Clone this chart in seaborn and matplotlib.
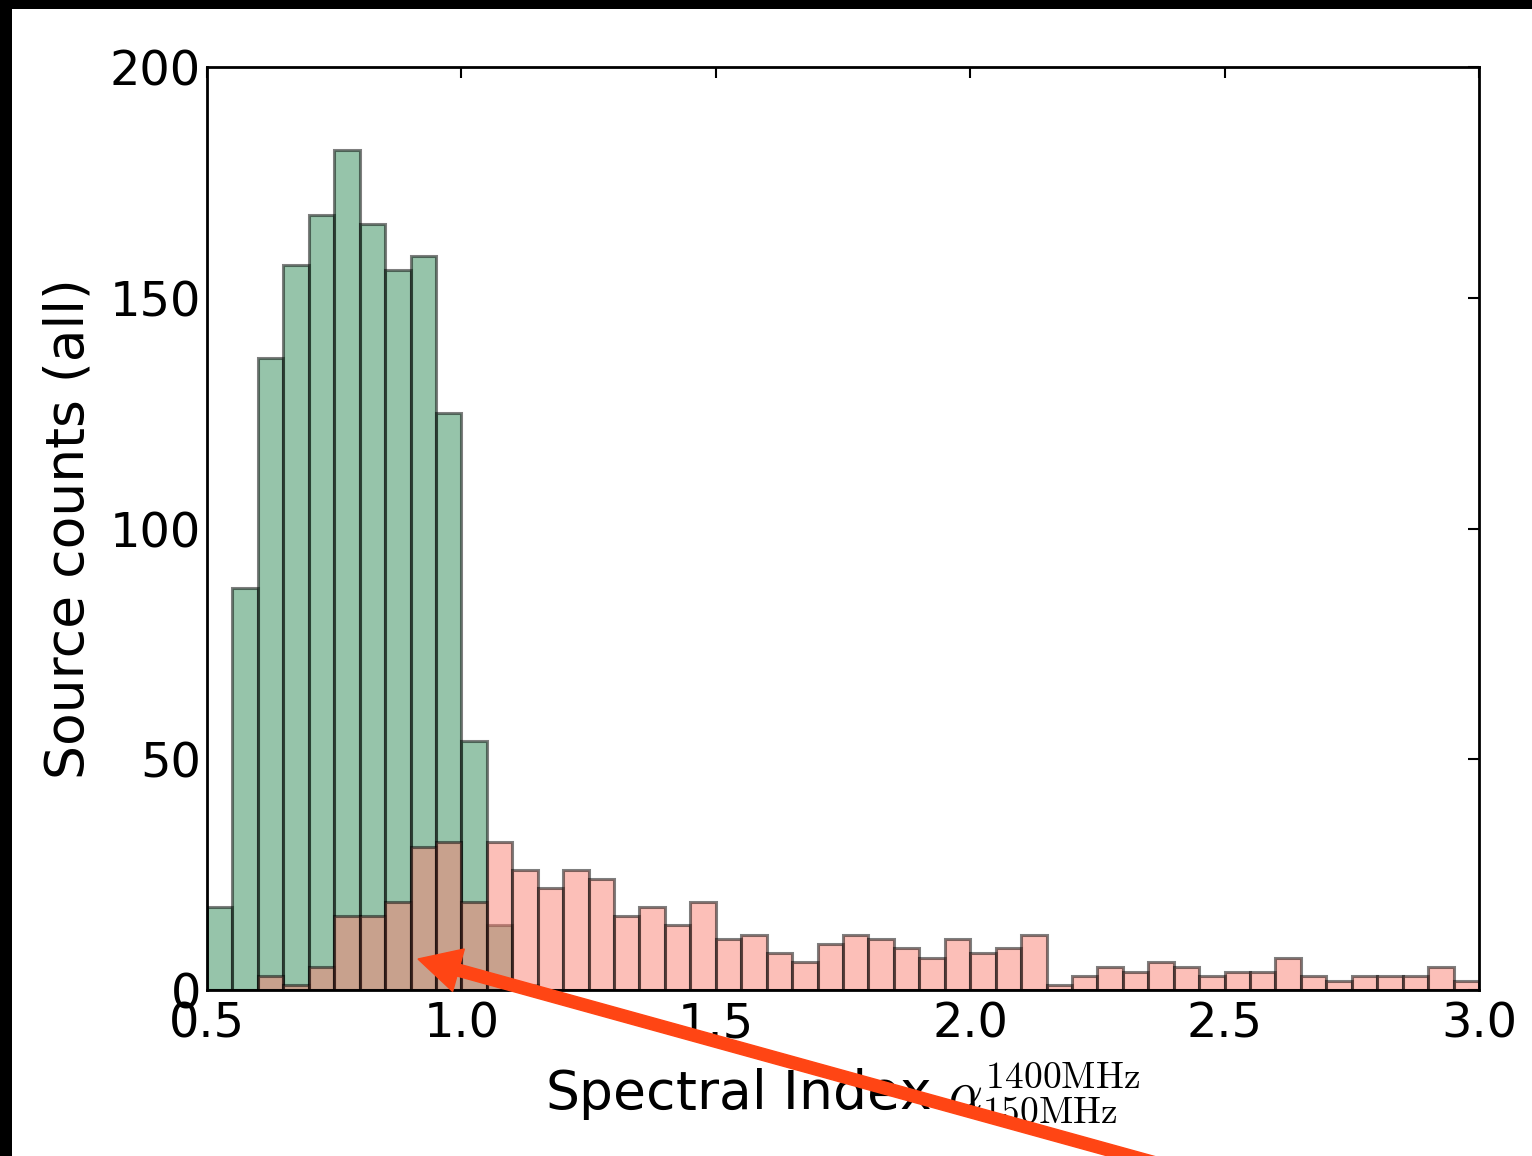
import numpy as np
import pandas as pd
import matplotlib
matplotlib.use("Agg")
import matplotlib.pyplot as plt
import seaborn as sns
from matplotlib.patches import Rectangle, FancyArrow
from matplotlib.transforms import IdentityTransform

# ---- data ----
bin_edges = [round(0.5 + 0.05 * i, 2) for i in range(51)]
green_counts = [18, 87, 137, 157, 168, 182, 166, 156, 159, 125,
                54, 14, 1, 0, 0, 0, 0, 0, 0, 0,
                0, 0, 0, 0, 0, 0, 0, 0, 0, 0,
                0, 0, 0, 0, 0, 0, 0, 0, 0, 0,
                0, 0, 0, 0, 0, 0, 0, 0, 0, 0]
pink_counts = [0, 0, 3, 1, 5, 16, 16, 19, 31, 32,
               19, 32, 26, 22, 26, 24, 16, 18, 14, 19,
               11, 12, 8, 6, 10, 12, 11, 9, 7, 11,
               8, 9, 12, 1, 3, 5, 4, 6, 5, 3,
               4, 4, 7, 3, 2, 3, 3, 3, 5, 2]
x_ticks = [0.5, 1.0, 1.5, 2.0, 2.5, 3.0]
y_ticks = [0, 50, 100, 150, 200]
x_label = r"Spectral Index $\alpha^{1400\mathrm{MHz}}_{150\mathrm{MHz}}$"
y_label = "Source counts (all)"

edges = np.array(bin_edges)
bin_centers = (edges[:-1] + edges[1:]) / 2
df_green = pd.DataFrame({"x": bin_centers, "w": np.array(green_counts, dtype=float)})
df_pink = pd.DataFrame({"x": bin_centers, "w": np.array(pink_counts, dtype=float)})

sns.set_style("white")
plt.rcParams["font.family"] = ["DejaVu Sans"]
plt.rcParams["mathtext.fontset"] = "cm"
plt.rcParams["text.color"] = "black"
plt.rcParams["axes.labelcolor"] = "black"

W, H, DPI = 1532, 1156, 100
fig = plt.figure(figsize=(W / DPI, H / DPI), dpi=DPI)
fig.patch.set_facecolor("white")
ax = fig.add_axes([207 / W, 1 - 990 / H, (1479 - 207) / W, (990 - 67) / H])

edge = (0, 0, 0, 0.5)
sns.histplot(data=df_green, x="x", weights="w", bins=bin_edges, stat="count",
             color="seagreen", alpha=0.5, edgecolor=edge, linewidth=2.2, ax=ax)
sns.histplot(data=df_pink, x="x", weights="w", bins=bin_edges, stat="count",
             color="salmon", alpha=0.5, edgecolor=edge, linewidth=2.2, ax=ax)

ax.set_xlim(0.5, 3.0)
ax.set_ylim(0, 200)
ax.set_xticks(x_ticks)
ax.set_xticklabels([f"{t:.1f}" for t in x_ticks])
ax.set_yticks(y_ticks)
ax.set_yticklabels([str(t) for t in y_ticks])
fs = 34.5
lfs = 38.5
ax.tick_params(direction="in", length=7.7, width=1.5, top=True, right=True,
               labelsize=fs, colors="black")
ax.tick_params(axis="x", pad=7.7)
ax.tick_params(axis="y", pad=4.5)
for s in ax.spines.values():
    s.set_visible(True)
    s.set_color("black")
    s.set_linewidth(2.0)
ax.set_xlabel(x_label, fontsize=lfs, labelpad=10, color="black")
ax.set_ylabel(y_label, fontsize=lfs, labelpad=11, color="black")

# black screenshot border on top and left
fig.add_artist(Rectangle((0, 1 - 9 / H), 1, 9 / H, transform=fig.transFigure,
                         facecolor="black", edgecolor="none", zorder=10))
fig.add_artist(Rectangle((0, 0), 12 / W, 1, transform=fig.transFigure,
                         facecolor="black", edgecolor="none", zorder=10))

# red annotation arrow (pixel coordinates, origin bottom-left)
tail = (1130 + 712 * 0.04, -194 * 0.04)
tip = (418, H - 959)
arr = FancyArrow(tail[0], tail[1], tip[0] - tail[0], tip[1] - tail[1],
                 width=12, head_width=44, head_length=42, length_includes_head=True,
                 transform=IdentityTransform(), color="#ff4514", zorder=20)
fig.add_artist(arr)

fig.savefig("out.png", dpi=DPI)
